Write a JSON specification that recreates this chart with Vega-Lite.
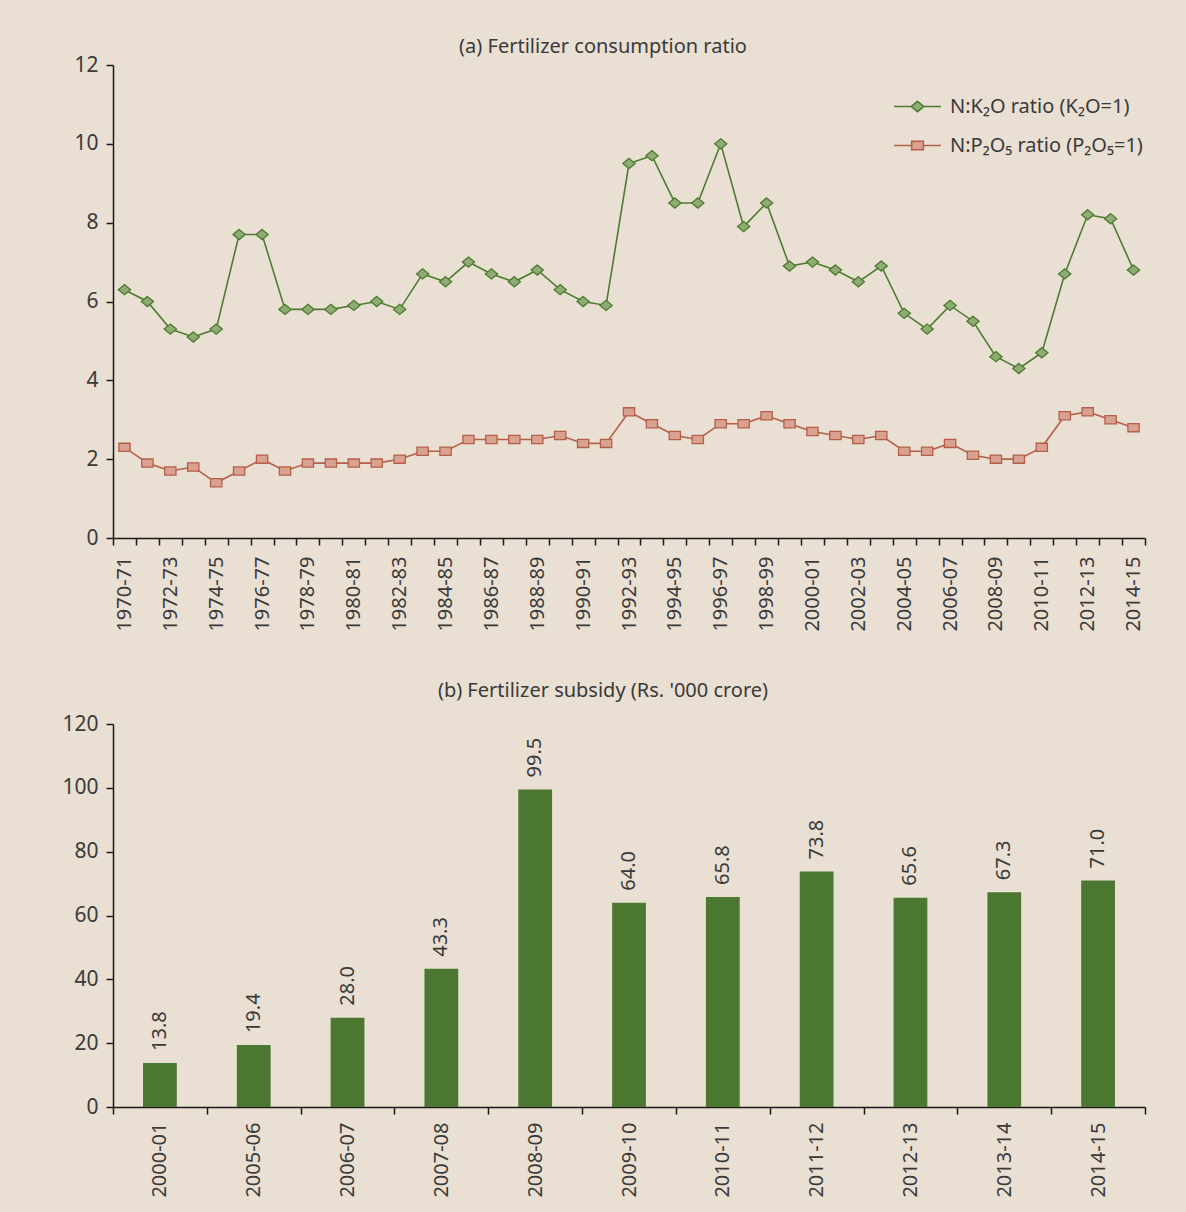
{
  "$schema": "https://vega.github.io/schema/vega-lite/v6.json",
  "background": "#e9dfd2",
  "padding": {"left": 61, "top": 37, "right": 41, "bottom": 16},
  "spacing": 49,
  "config": {
    "font": "Noto Sans",
    "view": {"stroke": null},
    "axis": {
      "labelFont": "Noto Sans", "labelFontSize": 20, "labelColor": "#3a3a3a",
      "domainColor": "#1a1a1a", "tickColor": "#1a1a1a", "domainWidth": 1.5, "tickWidth": 1.5,
      "tickSize": 7, "grid": false, "title": null
    },
    "title": {"font": "Noto Sans", "fontSize": 20, "fontWeight": "normal", "color": "#3a3a3a"}
  },
  "resolve": {"scale": {"x": "independent", "y": "independent"}},
  "vconcat": [
    {
      "width": 1032,
      "height": 473,
      "title": {"text": "(a) Fertilizer consumption ratio", "anchor": "middle", "dx": -26, "offset": -3},
      "data": {"values": [
        {"yr":"1970-71","s":"K","v":6.3},{"yr":"1971-72","s":"K","v":6.0},{"yr":"1972-73","s":"K","v":5.3},{"yr":"1973-74","s":"K","v":5.1},{"yr":"1974-75","s":"K","v":5.3},
        {"yr":"1975-76","s":"K","v":7.7},{"yr":"1976-77","s":"K","v":7.7},{"yr":"1977-78","s":"K","v":5.8},{"yr":"1978-79","s":"K","v":5.8},{"yr":"1979-80","s":"K","v":5.8},
        {"yr":"1980-81","s":"K","v":5.9},{"yr":"1981-82","s":"K","v":6.0},{"yr":"1982-83","s":"K","v":5.8},{"yr":"1983-84","s":"K","v":6.7},{"yr":"1984-85","s":"K","v":6.5},
        {"yr":"1985-86","s":"K","v":7.0},{"yr":"1986-87","s":"K","v":6.7},{"yr":"1987-88","s":"K","v":6.5},{"yr":"1988-89","s":"K","v":6.8},{"yr":"1989-90","s":"K","v":6.3},
        {"yr":"1990-91","s":"K","v":6.0},{"yr":"1991-92","s":"K","v":5.9},{"yr":"1992-93","s":"K","v":9.5},{"yr":"1993-94","s":"K","v":9.7},{"yr":"1994-95","s":"K","v":8.5},
        {"yr":"1995-96","s":"K","v":8.5},{"yr":"1996-97","s":"K","v":10.0},{"yr":"1997-98","s":"K","v":7.9},{"yr":"1998-99","s":"K","v":8.5},{"yr":"1999-00","s":"K","v":6.9},
        {"yr":"2000-01","s":"K","v":7.0},{"yr":"2001-02","s":"K","v":6.8},{"yr":"2002-03","s":"K","v":6.5},{"yr":"2003-04","s":"K","v":6.9},{"yr":"2004-05","s":"K","v":5.7},
        {"yr":"2005-06","s":"K","v":5.3},{"yr":"2006-07","s":"K","v":5.9},{"yr":"2007-08","s":"K","v":5.5},{"yr":"2008-09","s":"K","v":4.6},{"yr":"2009-10","s":"K","v":4.3},
        {"yr":"2010-11","s":"K","v":4.7},{"yr":"2011-12","s":"K","v":6.7},{"yr":"2012-13","s":"K","v":8.2},{"yr":"2013-14","s":"K","v":8.1},{"yr":"2014-15","s":"K","v":6.8},
        {"yr":"1970-71","s":"P","v":2.3},{"yr":"1971-72","s":"P","v":1.9},{"yr":"1972-73","s":"P","v":1.7},{"yr":"1973-74","s":"P","v":1.8},{"yr":"1974-75","s":"P","v":1.4},
        {"yr":"1975-76","s":"P","v":1.7},{"yr":"1976-77","s":"P","v":2.0},{"yr":"1977-78","s":"P","v":1.7},{"yr":"1978-79","s":"P","v":1.9},{"yr":"1979-80","s":"P","v":1.9},
        {"yr":"1980-81","s":"P","v":1.9},{"yr":"1981-82","s":"P","v":1.9},{"yr":"1982-83","s":"P","v":2.0},{"yr":"1983-84","s":"P","v":2.2},{"yr":"1984-85","s":"P","v":2.2},
        {"yr":"1985-86","s":"P","v":2.5},{"yr":"1986-87","s":"P","v":2.5},{"yr":"1987-88","s":"P","v":2.5},{"yr":"1988-89","s":"P","v":2.5},{"yr":"1989-90","s":"P","v":2.6},
        {"yr":"1990-91","s":"P","v":2.4},{"yr":"1991-92","s":"P","v":2.4},{"yr":"1992-93","s":"P","v":3.2},{"yr":"1993-94","s":"P","v":2.9},{"yr":"1994-95","s":"P","v":2.6},
        {"yr":"1995-96","s":"P","v":2.5},{"yr":"1996-97","s":"P","v":2.9},{"yr":"1997-98","s":"P","v":2.9},{"yr":"1998-99","s":"P","v":3.1},{"yr":"1999-00","s":"P","v":2.9},
        {"yr":"2000-01","s":"P","v":2.7},{"yr":"2001-02","s":"P","v":2.6},{"yr":"2002-03","s":"P","v":2.5},{"yr":"2003-04","s":"P","v":2.6},{"yr":"2004-05","s":"P","v":2.2},
        {"yr":"2005-06","s":"P","v":2.2},{"yr":"2006-07","s":"P","v":2.4},{"yr":"2007-08","s":"P","v":2.1},{"yr":"2008-09","s":"P","v":2.0},{"yr":"2009-10","s":"P","v":2.0},
        {"yr":"2010-11","s":"P","v":2.3},{"yr":"2011-12","s":"P","v":3.1},{"yr":"2012-13","s":"P","v":3.2},{"yr":"2013-14","s":"P","v":3.0},{"yr":"2014-15","s":"P","v":2.8}
      ]},
      "encoding": {
        "x": {"field": "yr", "type": "ordinal", "sort": null,
          "scale": {"type": "band", "paddingInner": 0, "paddingOuter": 0},
          "axis": {"tickBand": "extent", "labelAngle": -90, "labelPadding": 11,
            "labelExpr": "toNumber(slice(datum.label,0,4)) % 2 === 0 ? datum.label : ''"}},
        "y": {"field": "v", "type": "quantitative",
          "scale": {"domain": [0, 12], "nice": false},
          "axis": {"values": [0, 2, 4, 6, 8, 10, 12], "labelPadding": 8, "labelFontSize": 21}}
      },
      "layer": [
        {
          "mark": {"type": "line", "strokeWidth": 1.6},
          "encoding": {
            "color": {"field": "s", "type": "nominal",
              "scale": {"domain": ["K", "P"], "range": ["#4d7c30", "#b55f49"]},
              "legend": {
                "orient": "none", "legendX": 780, "legendY": 17, "title": null, "padding": 0,
                "symbolSize": 2209, "symbolStrokeWidth": 1.5, "labelFontSize": 20, "labelColor": "#3a3a3a",
                "labelFont": "Noto Sans", "labelOffset": 8, "rowPadding": 4, "labelLimit": 400,
                "labelExpr": "datum.value == 'K' ? 'N:K₂O ratio (K₂O=1)' : 'N:P₂O₅ ratio (P₂O₅=1)'",
                "encode": {"symbols": {"update": {
                  "shape": {"signal": "datum.value == 'K' ? 'M-1,0H-0.27M0.27,0H1M0,-0.22L0.27,0L0,0.22L-0.27,0Z' : 'M-1,0H-0.25M0.25,0H1M-0.25,-0.18H0.25V0.18H-0.25Z'"},
                  "fill": {"signal": "datum.value == 'K' ? '#8fac74' : '#d9a18f'"},
                  "stroke": {"signal": "datum.value == 'K' ? '#4d7c30' : '#b55f49'"},
                  "strokeWidth": {"value": 1.5}
                }}}
              }}
          }
        },
        {
          "transform": [{"filter": "datum.s === 'K'"}],
          "mark": {"type": "point", "filled": false, "strokeWidth": 1.3, "opacity": 1, "size": 150,
            "shape": "M0,-0.83L1,0L0,0.83L-1,0Z", "fill": "#8fac74", "stroke": "#4d7c30"}
        },
        {
          "transform": [{"filter": "datum.s === 'P'"}],
          "mark": {"type": "point", "filled": false, "strokeWidth": 1.3, "opacity": 1, "size": 150,
            "shape": "M-0.92,-0.67H0.92V0.67H-0.92Z", "fill": "#d9a18f", "stroke": "#b55f49"}
        }
      ]
    },
    {
      "width": 1032,
      "height": 383,
      "title": {"text": "(b) Fertilizer subsidy (Rs. '000 crore)", "anchor": "middle", "dx": -26, "offset": 12},
      "data": {"values": [
        {"yr": "2000-01", "v": 13.8}, {"yr": "2005-06", "v": 19.4}, {"yr": "2006-07", "v": 28.0},
        {"yr": "2007-08", "v": 43.3}, {"yr": "2008-09", "v": 99.5}, {"yr": "2009-10", "v": 64.0},
        {"yr": "2010-11", "v": 65.8}, {"yr": "2011-12", "v": 73.8}, {"yr": "2012-13", "v": 65.6},
        {"yr": "2013-14", "v": 67.3}, {"yr": "2014-15", "v": 71.0}
      ]},
      "encoding": {
        "x": {"field": "yr", "type": "ordinal", "sort": null,
          "scale": {"type": "band", "paddingInner": 0, "paddingOuter": 0},
          "axis": {"tickBand": "extent", "labelAngle": -90, "labelPadding": 8}},
        "y": {"field": "v", "type": "quantitative",
          "scale": {"domain": [0, 120], "nice": false},
          "axis": {"values": [0, 20, 40, 60, 80, 100, 120], "labelPadding": 8, "labelFontSize": 21}}
      },
      "layer": [
        {"mark": {"type": "bar", "color": "#4b7730", "width": {"band": 0.36}}},
        {"mark": {"type": "text", "angle": 270, "align": "left", "baseline": "middle", "dx": 12,
            "fontSize": 20, "color": "#3a3a3a", "font": "Noto Sans"},
         "encoding": {"text": {"field": "v", "type": "quantitative", "format": ".1f"}}}
      ]
    }
  ]
}
